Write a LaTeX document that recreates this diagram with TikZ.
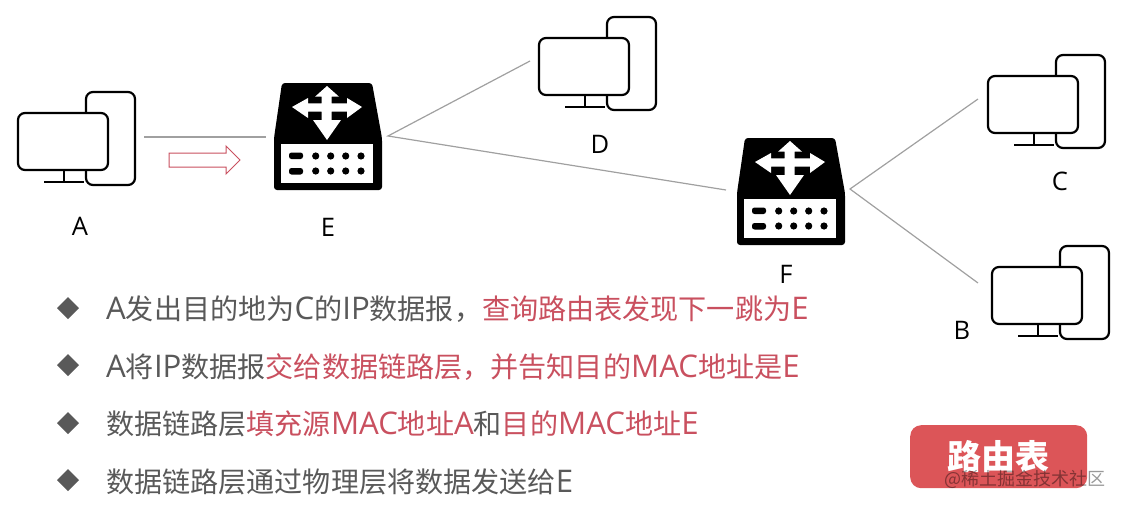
\documentclass[tikz,border=0pt]{standalone}
\usepackage{fontspec}
\setmainfont{Noto Sans CJK SC}
\newfontfamily\latf[Scale=1.11]{Open Sans}
\newcommand{\lt}[1]{{\latf #1}}
\definecolor{txtgray}{HTML}{595959}
\definecolor{txtred}{HTML}{C9505F}
\definecolor{btnred}{HTML}{DC5558}
\definecolor{wire}{HTML}{A0A0A0}
\newcommand{\sz}[1]{\fontsize{#1pt}{#1pt}\selectfont}
\tikzset{
  x=1pt,y=-1pt,
  wireline/.style={draw=wire,line width=1.2pt},
  label/.style={inner sep=0pt,text=black,font=\sz{23}\latf},
  item/.style={inner sep=0pt,anchor=base west,text=txtgray,font=\sz{28.1}},
  bullet/.style={fill=txtgray,draw=none},
  iconbox/.style={inner sep=0pt,draw=none,anchor=north west},
  computer/.pic={
    \draw[line width=2.2pt,rounded corners=7pt,fill=white] (68,0) rectangle (117,93);
    \draw[line width=2.2pt] (46,78) -- (46,90) (26,90) -- (66,90);
    \draw[line width=2.2pt,rounded corners=7pt,fill=white] (0,21) rectangle (90,78);
  },
  router/.pic={
    \fill[black,rounded corners=3pt] (9,0) -- (99,0) -- (109,55) -- (109,107) -- (1,107) -- (1,55) -- cycle;
    \fill[white] (8,61) rectangle (100,100);
    \fill[white] (19,24) -- (35,15) -- (35,20.3) -- (48.7,20.3) -- (48.7,13.7) -- (42,13.7) -- (54,3) -- (66,13.7) -- (58.7,13.7) -- (58.7,20.3) -- (74,20.3) -- (74,15) -- (89,24) -- (74,35) -- (74,28.7) -- (58.7,28.7) -- (58.7,37) -- (68,37) -- (54,57) -- (40,37) -- (48.7,37) -- (48.7,28.7) -- (35,28.7) -- (35,35) -- cycle;
    \fill[black,rounded corners=2.5pt] (16,69.5) rectangle (30,76) (16,85) rectangle (30,91.5);
    \foreach \dx in {42.7,57.7,72.7,88} {
      \fill[black] (\dx,73) circle (3.6);
      \fill[black] (\dx,88) circle (3.6);
    }
  },
}
\begin{document}
\begin{tikzpicture}
\useasboundingbox (0,0) rectangle (1122,506);

% icons
\pic at (18,92) {computer};
\pic at (539,17) {computer};
\pic at (988,55) {computer};
\pic at (992,246) {computer};
\pic at (273,83) {router};
\pic at (736,138) {router};
\node[iconbox,minimum width=117pt,minimum height=93pt] (A) at (18,92) {};
\node[iconbox,minimum width=117pt,minimum height=93pt] (D) at (539,17) {};
\node[iconbox,minimum width=117pt,minimum height=93pt] (C) at (988,55) {};
\node[iconbox,minimum width=117pt,minimum height=93pt] (B) at (992,246) {};
\node[iconbox,minimum width=110pt,minimum height=107pt] (E) at (273,83) {};
\node[iconbox,minimum width=110pt,minimum height=107pt] (F) at (736,138) {};

% connector ends
\coordinate (Aout) at (144,137);
\coordinate (Ein) at (266,137);
\coordinate (Eout) at (388,136);
\coordinate (Din) at (530,61);
\coordinate (Fin) at (726,190);
\coordinate (Fout) at (850,189);
\coordinate (Cin) at (978,99);
\coordinate (Bin) at (978,283);

\draw[wireline] (Aout) -- (Ein);
\draw[wireline] (Din) -- (Eout) -- (Fin);
\draw[wireline] (Cin) -- (Fout) -- (Bin);

% hollow arrow
\draw[draw=txtred,line width=1pt,fill=white] (169,153) -- (226,153) -- (226,146) -- (240,160) -- (226,174) -- (226,167) -- (169,167) -- cycle;

% labels
\node[label] (lA) at (80,226) {A};
\node[label] (lE) at (328,227) {E};
\node[label] (lD) at (600,144) {D};
\node[label] (lC) at (1060,181) {C};
\node[label] (lF) at (786,274) {F};
\node[label] (lB) at (962,330) {B};

% bullets
\foreach \yy/\nm in {308/b1,365/b2,423/b3,480/b4} {
  \fill[bullet] (57,\yy) -- (68,\yy-11) -- (79,\yy) -- (68,\yy+11) -- cycle;
}

% text lines
\node[item] (t1) at (106,319) {\lt{A}发出目的地为\lt{C}的\lt{IP}数据报，\textcolor{txtred}{查询路由表发现下一跳为\lt{E}}};
\node[item] (t2) at (106,377) {\lt{A}将\lt{IP}数据报\textcolor{txtred}{交给数据链路层，并告知目的\lt{MAC}地址是\lt{E}}};
\node[item] (t3) at (106,434) {数据链路层\textcolor{txtred}{填充源\lt{MAC}地址\lt{A}}和\textcolor{txtred}{目的\lt{MAC}地址\lt{E}}};
\node[item] (t4) at (106,492) {数据链路层通过物理层将数据发送给\lt{E}};

% button
\node[fill=btnred,rounded corners=11pt,minimum width=177pt,minimum height=63pt,inner sep=0pt,anchor=north west] (btn) at (910,425) {};
\node[inner sep=0pt,text=white,font=\sz{34}\bfseries] (btnt) at (998,457) {路由表};
\node[inner sep=0pt,text=black,opacity=0.4,font=\sz{18}] (wm) at (1025,479) {@稀土掘金技术社区};
\end{tikzpicture}
\end{document}
